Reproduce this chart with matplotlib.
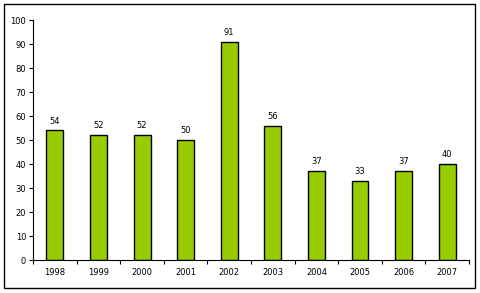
import numpy as np
import matplotlib.pyplot as plt
from matplotlib.patches import Rectangle

# Dane
lata = ["1998", "1999", "2000", "2001", "2002", "2003", "2004", "2005", "2006", "2007"]
wartosci = [54, 52, 52, 50, 91, 56, 37, 33, 37, 40]

fig = plt.figure(figsize=(4.8, 2.93), dpi=100)
ax = fig.add_axes([0.069, 0.1126, 0.908, 0.8191])

x = np.arange(len(lata))
ax.bar(x, wartosci, width=0.39, color="#99CC00", edgecolor="black", linewidth=1.0)

for xi, v in zip(x, wartosci):
    ax.text(xi, v + 2, str(v), ha="center", va="bottom", fontsize=6)

ax.set_xlim(-0.5, len(lata) - 0.5)
ax.set_ylim(0, 100)
ax.set_yticks(range(0, 101, 10))
ax.tick_params(axis="y", labelsize=6, length=3, width=0.8, direction="out", pad=2)

# Etykiety lat na środku, kreski między kategoriami
ax.set_xticks(x)
ax.set_xticklabels(lata)
ax.set_xticks(np.arange(-0.5, len(lata), 1), minor=True)
ax.tick_params(axis="x", which="major", length=0, labelsize=6, pad=6)
ax.tick_params(axis="x", which="minor", length=3, width=0.8, direction="out")

for s in ["top", "right"]:
    ax.spines[s].set_visible(False)
for s in ["left", "bottom"]:
    ax.spines[s].set_linewidth(0.8)

# Ramka wokół całości
fig.patches.append(Rectangle((0.0083, 0.017), 0.9817, 0.969, transform=fig.transFigure,
                             fill=False, edgecolor="black", linewidth=1.0))

fig.savefig("out.png", dpi=100)
